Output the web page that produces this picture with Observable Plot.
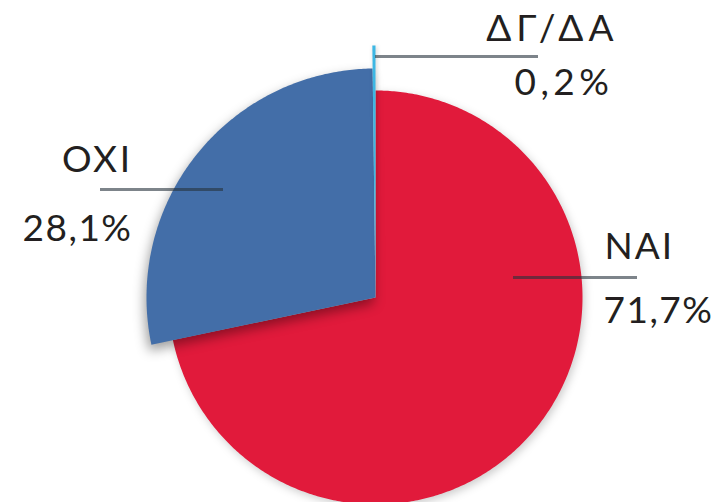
<!DOCTYPE html>
<html>
<head>
<meta charset="utf-8">
<script src="https://cdn.jsdelivr.net/npm/d3@7"></script>
<script src="https://cdn.jsdelivr.net/npm/@observablehq/plot@0.6"></script>
<style>
  html, body { margin: 0; padding: 0; background: #ffffff; }
  #chart svg { display: block; }
</style>
</head>
<body>
<div id="chart"></div>
<script>
// ---- data ----
const categories = ["ΝΑΙ", "ΟΧΙ", "ΔΓ/ΔΑ"];
const values = [71.7, 28.1, 0.2];
const valueLabels = ["71,7%", "28,1%", "0,2%"];

// ---- styles / layout (kept apart from the data) ----
const colors = ["#e11a3b", "#436ea8", "#3db7e4"];
const W = 715, H = 502;
const center = {x: 375, y: 297};
const radii = [207, 229, 252];          // exploded outer radius per slice
const shadows = [
  "drop-shadow(2px 3px 4px rgba(0,0,0,0.2))",
  "drop-shadow(-2px 6px 6px rgba(0,0,0,0.38))",
  "drop-shadow(1px 1px 2px rgba(0,0,0,0.2))"
];
// leader line + label layout per slice
const labelLayout = [
  {x1: 513, x2: 637, y: 277, tx: 604, vx: 603, anchor: "start", nameY: 258, valueY: 322, nameSpacing: 2,   valueSpacing: 1.5},
  {x1: 100, x2: 223, y: 189, tx: 132, vx: 132, anchor: "end",   nameY: 171, valueY: 240, nameSpacing: 2.5, valueSpacing: 1.5},
  {x1: 375, x2: 538, y: 56,  tx: 618, vx: 613, anchor: "end",   nameY: 40,  valueY: 94,  nameSpacing: 5,   valueSpacing: 4.5}
];

// ---- build slice outlines from the values ----
const arcs = d3.pie().sort(null).value(d => d)(values);
const slicePts = [];
arcs.forEach((a, i) => {
  const r = radii[i];
  const n = Math.max(4, Math.ceil((a.endAngle - a.startAngle) / 0.01));
  slicePts.push({k: i, x: center.x, y: center.y});
  for (let j = 0; j <= n; j++) {
    const t = a.startAngle + (a.endAngle - a.startAngle) * j / n;
    slicePts.push({k: i, x: center.x + r * Math.sin(t), y: center.y - r * Math.cos(t)});
  }
});

const labels = categories.map((c, i) => ({
  name: c, value: valueLabels[i], ...labelLayout[i]
}));

const font = "Lato, 'Noto Sans', sans-serif";

const sliceMarks = categories.map((c, i) =>
  Plot.line(slicePts.filter(d => d.k === i), {
    x: "x", y: "y", curve: "linear-closed",
    fill: colors[i], stroke: "none"
  })
);

const textMarks = [];
labels.forEach(d => {
  textMarks.push(Plot.text([d], {x: "tx", y: "nameY", text: "name", textAnchor: d.anchor, lineAnchor: "bottom", fontSize: 37, fill: "#231f20"}));
  textMarks.push(Plot.text([d], {x: "vx", y: "valueY", text: "value", textAnchor: d.anchor, lineAnchor: "bottom", fontSize: 37, fill: "#231f20"}));
});

const svg = Plot.plot({
  width: W, height: H,
  margin: 0,
  x: {domain: [0, W], range: [0, W], axis: null},
  y: {domain: [0, H], range: [0, H], axis: null},
  style: {background: "#ffffff", fontFamily: font},
  marks: [
    ...sliceMarks,
    Plot.ruleY(labels, {y: "y", x1: "x1", x2: "x2", stroke: "#26323c", strokeOpacity: 0.6, strokeWidth: 3}),
    ...textMarks
  ]
});

// soft shadows like the reference
d3.select(svg).selectAll("g[aria-label=line]").each(function(_, i) {
  this.style.filter = shadows[i];
});
// per-label letter spacing
const spacing = new Map();
labels.forEach(d => { spacing.set(d.name, d.nameSpacing); spacing.set(d.value, d.valueSpacing); });
d3.select(svg).selectAll("text").each(function() {
  const sp = spacing.get(this.textContent);
  if (sp != null) this.setAttribute("letter-spacing", sp);
});

document.getElementById("chart").appendChild(svg);
</script>
</body>
</html>
